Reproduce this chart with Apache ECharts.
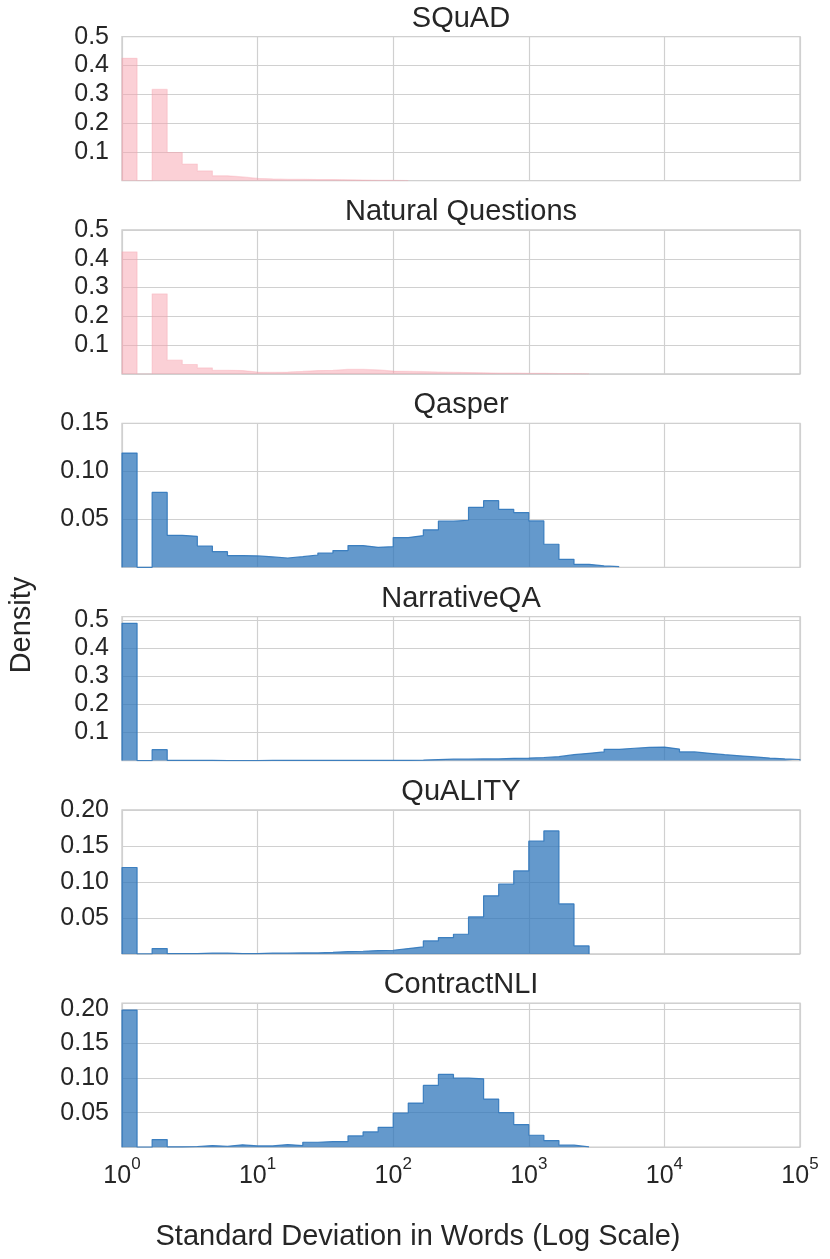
<!DOCTYPE html>
<html>
<head>
	<meta charset="utf-8">
	<script src="https://cdn.jsdelivr.net/npm/echarts@6/dist/echarts.min.js"></script>
	<title>std dev histograms</title>
	<style>
		html, body { margin: 0; padding: 0; background: #fff; }
	</style>
</head>
<body>
	<div id="main" style="width:830px;height:1259px"></div>
	<script type="text/javascript">
		// histogram densities, one value per log bin (9 bins per decade, from 10^0)
		var binsPerDecade = 9
		var titles = ['SQuAD', 'Natural Questions', 'Qasper', 'NarrativeQA', 'QuALITY', 'ContractNLI']
		var xTickExponents = [0, 1, 2, 3, 4, 5]

		var squad = [0.425, 0, 0.317, 0.098, 0.058, 0.034, 0.017, 0.013, 0.008, 0.006, 0.005, 0.005, 0.004, 0.004,
			0.003, 0.002, 0.001, 0.001, 0.0005]
		var naturalQuestions = [0.424, 0, 0.278, 0.048, 0.033, 0.021, 0.013, 0.012, 0.007, 0.006, 0.007, 0.009, 0.012,
			0.013, 0.016, 0.016, 0.014, 0.010, 0.009, 0.008, 0.007, 0.006, 0.005, 0.004, 0.003, 0.003, 0.002, 0.002,
			0.001, 0.001, 0.0005]
		var qasper = [0.119, 0, 0.078, 0.0333, 0.0323, 0.0222, 0.0163, 0.0122, 0.0118, 0.0108, 0.0097, 0.0111, 0.0128,
			0.0149, 0.0174, 0.0226, 0.0208, 0.0215, 0.031, 0.033, 0.039, 0.048, 0.049, 0.0625, 0.0694, 0.0604, 0.057,
			0.0483, 0.024, 0.0083, 0.0031, 0.0014, 0.0007]
		var narrativeQA = [0.488, 0, 0.039, 0.001, 0.001, 0.001, 0, 0, 0, 0.0005, 0.001, 0.001, 0.001, 0.001, 0.001,
			0.001, 0.001, 0.001, 0.001, 0.002, 0.0035, 0.005, 0.005, 0.006, 0.006, 0.008, 0.009, 0.011, 0.014, 0.021,
			0.026, 0.031, 0.040, 0.044, 0.047, 0.048, 0.041, 0.031, 0.026, 0.021, 0.017, 0.013, 0.009, 0.006, 0.004]
		var quality = [0.120, 0, 0.0074, 0.0005, 0.0005, 0.001, 0.001, 0.0005, 0.0005, 0.001, 0.001, 0.0014, 0.0014,
			0.002, 0.0032, 0.0037, 0.0046, 0.0051, 0.0074, 0.0097, 0.018, 0.0227, 0.0273, 0.0514, 0.0806, 0.0968,
			0.1153, 0.1565, 0.1708, 0.0694, 0.0111]
		var contractNLI = [0.1986, 0, 0.011, 0.0005, 0.001, 0.0024, 0.0014, 0.0034, 0.0019, 0.0019, 0.0038, 0.0024,
			0.0072, 0.0082, 0.0082, 0.0163, 0.0221, 0.0288, 0.0495, 0.0639, 0.0894, 0.1053, 0.100, 0.099, 0.0697,
			0.050, 0.0327, 0.0173, 0.0096, 0.003, 0.0005]

		var seriesValues = [squad, naturalQuestions, qasper, narrativeQA, quality, contractNLI]
		var yMax = [0.5, 0.5, 0.15, 0.512, 0.2, 0.2085]
		var yStep = [0.1, 0.1, 0.05, 0.1, 0.05, 0.05]
		var yDecimals = [1, 1, 2, 1, 2, 2]

		var FONT = "'Liberation Sans', Arial, Helvetica, sans-serif"
		var TEXT = '#262626'
		var GRID = '#d0d0d0'
		var pink = { fill: 'rgba(247,161,173,0.5)', line: 'rgba(247,161,173,0.35)' }
		var blue = { fill: 'rgba(48,119,187,0.75)', line: 'rgba(48,119,187,0.9)' }
		var panelColors = [pink, pink, blue, blue, blue, blue]

		var firstTop = 36.7, panelGap = 193.3, panelHeight = 144, gridLeft = 122, gridRight = 30

		// x is the base-10 exponent, so a linear value axis acts as the log scale.
		// step outline: one point per left bin edge, then close at the last right edge
		function stepPoints(values) {
			var pts = [[0, 0]]
			for (var k = 0; k < values.length; k++) pts.push([k / binsPerDecade, values[k]])
			var end = values.length / binsPerDecade
			pts.push([end, values[values.length - 1]])
			pts.push([end, 0])
			return pts
		}

		function yLabel(step, dec) {
			return function (v) {
				var r = v / step
				if (v === 0 || Math.abs(r - Math.round(r)) > 1e-6) return ''
				return v.toFixed(dec)
			}
		}

		var grids = [], xAxes = [], yAxes = [], series = [], graphics = []
		for (var i = 0; i < 6; i++) {
			var panelTop = firstTop + i * panelGap
			grids.push({ left: gridLeft, right: gridRight, top: panelTop, height: panelHeight, show: true,
				borderColor: '#cccccc', borderWidth: 1.3 })
			xAxes.push({
				gridIndex: i, type: 'value',
				min: xTickExponents[0], max: xTickExponents[xTickExponents.length - 1], interval: 1,
				axisLine: { show: false }, axisTick: { show: false },
				splitLine: { show: true, lineStyle: { color: GRID, width: 1.2 } },
				axisLabel: {
					show: i === 5, margin: 9,
					formatter: function (v) { return '{b|10}{s|' + v + '}' },
					rich: {
						b: { fontSize: 25, fontFamily: FONT, color: TEXT, lineHeight: 32, verticalAlign: 'bottom' },
						s: { fontSize: 17, fontFamily: FONT, color: TEXT, lineHeight: 17, verticalAlign: 'top' }
					}
				}
			})
			yAxes.push({
				gridIndex: i, type: 'value', min: 0, max: yMax[i], interval: yStep[i],
				axisLine: { show: false }, axisTick: { show: false },
				splitLine: { show: true, lineStyle: { color: GRID, width: 1.2 } },
				axisLabel: { margin: 13, fontSize: 25, fontFamily: FONT, color: TEXT,
					formatter: yLabel(yStep[i], yDecimals[i]) }
			})
			series.push({
				type: 'line', xAxisIndex: i, yAxisIndex: i,
				step: 'end', symbol: 'none', silent: true,
				lineStyle: { color: panelColors[i].line, width: 1.2 },
				areaStyle: { color: panelColors[i].fill, opacity: 1 },
				data: stepPoints(seriesValues[i])
			})
			graphics.push({
				type: 'text', x: gridLeft + 678 / 2, y: panelTop - 18,
				style: { text: titles[i], fontSize: 29, fontFamily: FONT, fill: TEXT, align: 'center', verticalAlign: 'middle' }
			})
		}

		graphics.push({
			type: 'text', x: 22, y: 625, rotation: Math.PI / 2,
			style: { text: 'Density', fontSize: 29, fontFamily: FONT, fill: TEXT, align: 'center', verticalAlign: 'middle' }
		})
		graphics.push({
			type: 'text', x: 418, y: 1237,
			style: { text: 'Standard Deviation in Words (Log Scale)', fontSize: 29, fontFamily: FONT, fill: TEXT, align: 'center', verticalAlign: 'middle' }
		})

		var myChart = echarts.init(document.getElementById('main'))
		myChart.setOption({
			backgroundColor: '#fff',
			animation: false,
			grid: grids,
			xAxis: xAxes,
			yAxis: yAxes,
			series: series,
			graphic: graphics
		})
	</script>
</body>
</html>
